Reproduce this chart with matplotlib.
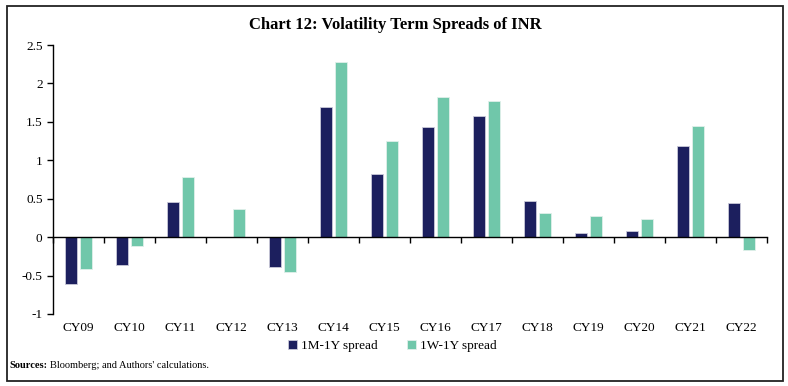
import matplotlib
matplotlib.use("Agg")
import matplotlib.pyplot as plt
from matplotlib.patches import Rectangle
import numpy as np

categories = ["CY09", "CY10", "CY11", "CY12", "CY13", "CY14", "CY15",
              "CY16", "CY17", "CY18", "CY19", "CY20", "CY21", "CY22"]
spread_1m_1y = [-0.61, -0.36, 0.46, 0.0, -0.39, 1.69, 0.82,
                1.43, 1.57, 0.47, 0.06, 0.08, 1.18, 0.45]
spread_1w_1y = [-0.42, -0.11, 0.78, 0.37, -0.46, 2.28, 1.25,
                1.82, 1.77, 0.32, 0.27, 0.23, 1.44, -0.17]
yticks = [-1, -0.5, 0, 0.5, 1, 1.5, 2, 2.5]
ytick_labels = ["-1", "-0.5", "0", "0.5", "1", "1.5", "2", "2.5"]

plt.rcParams['font.family'] = ['Liberation Serif', 'DejaVu Serif']

fig = plt.figure(figsize=(7.88, 3.86), dpi=100)
ax = fig.add_axes([53/788, 1-314/386, (767-53)/788, (314-45)/386])

x = np.arange(len(categories))
w = 0.23
off = 0.14
c1 = "#1c1f5e"
c2 = "#70c7aa"
ax.bar(x - off, spread_1m_1y, width=w, color=c1, edgecolor="#c9c9d9", linewidth=0.6, label="1M-1Y spread")
ax.bar(x + off, spread_1w_1y, width=w, color=c2, edgecolor="#e0f0ea", linewidth=0.6, label="1W-1Y spread")

ax.set_xlim(-0.5, len(categories) - 0.5)
ax.set_ylim(-1, 2.5)
ax.set_yticks(yticks)
ax.set_yticklabels(ytick_labels, fontsize=9.5)

for s in ["top", "right"]:
    ax.spines[s].set_visible(False)
ax.spines["bottom"].set_position(("data", 0))
ax.spines["bottom"].set_linewidth(1.0)
ax.spines["left"].set_linewidth(1.0)

ax.set_xticks(x)
ax.set_xticklabels(categories, fontsize=9.5)
ax.tick_params(axis="x", which="major", length=0, pad=61)
ax.set_xticks(np.arange(-0.5, len(categories), 1.0), minor=True)
ax.tick_params(axis="x", which="minor", length=4, direction="out", width=1.0)
ax.tick_params(axis="y", length=4, direction="out", width=1.0)

fig.text(395/788, 1-25/386, "Chart 12: Volatility Term Spreads of INR",
         ha="center", va="center", fontsize=12, fontweight="bold")
fig.legend(loc="center", bbox_to_anchor=(392/788, 1-346/386), ncol=2,
           frameon=False, fontsize=9.5, handlelength=0.7, handleheight=0.7,
           handletextpad=0.3, columnspacing=2.2)

t1 = fig.text(9/788, 1-365/386, "Sources:", ha="left", va="center",
              fontsize=7.5, fontweight="bold")
fig.canvas.draw()
bb = t1.get_window_extent(renderer=fig.canvas.get_renderer())
fig.text((bb.x1 + 3) / 788, 1-365/386, "Bloomberg; and Authors' calculations.",
         ha="left", va="center", fontsize=7.5)

fig.patches.append(Rectangle((7/788, 1-381/386), (783-7)/788, (381-6)/386,
                             transform=fig.transFigure, fill=False,
                             edgecolor="#222222", linewidth=1.3))

fig.savefig("out.png", dpi=100)
